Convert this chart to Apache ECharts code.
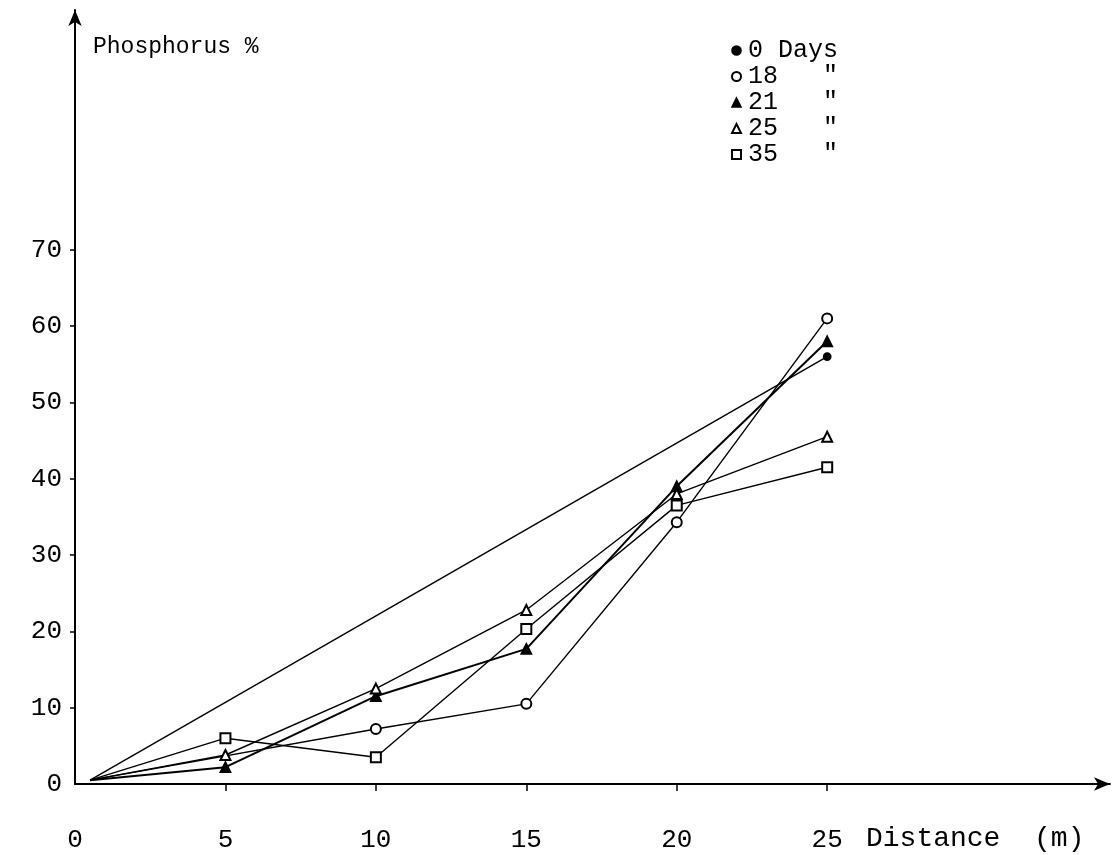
<!DOCTYPE html>
<html>
<head>
<meta charset="utf-8">
<script src="https://cdn.jsdelivr.net/npm/echarts@6/dist/echarts.min.js"></script>
<style>
html,body{margin:0;padding:0;background:#fff;}
#chart{width:1117px;height:855px;}
</style>
</head>
<body>
<div id="chart"></div>
<script>
// Data (x = distance in m, y = phosphorus %)
const xTicks = [0, 5, 10, 15, 20, 25];
const yTicks = [0, 10, 20, 30, 40, 50, 60, 70];
const seriesNames = ['0 Days', '18', '21', '25', '35'];
const legendLabels = ['0 Days', '18   "', '21   "', '25   "', '35   "'];
const days0  = [[0.5, 0.5], [25, 56]];
const days18 = [[0.5, 0.5], [10, 7.2], [15, 10.5], [20, 34.3], [25, 61]];
const days21 = [[0.5, 0.5], [5, 2.2], [10, 11.5], [15, 17.7], [20, 39], [25, 58]];
const days25 = [[0.5, 0.5], [5, 3.8], [10, 12.5], [15, 22.8], [20, 38], [25, 45.5]];
const days35 = [[0.5, 0.5], [5, 6.0], [10, 3.5], [15, 20.3], [20, 36.5], [25, 41.5]];
const seriesData = [days0, days18, days21, days25, days35];
const symbols = ['circle', 'emptyCircle', 'triangle', 'emptyTriangle', 'emptyRect'];

const FONT = '"Liberation Mono", "DejaVu Sans Mono", monospace';
const chart = echarts.init(document.getElementById('chart'));

const series = seriesNames.map((n, i) => ({
  name: n,
  type: 'line',
  // the common starting point near the origin is drawn without a marker
  data: seriesData[i].map((p, j) => j === 0 ? { value: p, symbol: 'none' } : p),
  symbol: symbols[i],
  symbolSize: i === 0 ? 7 : 10,
  showSymbol: true,
  color: '#000',
  lineStyle: { color: '#000', width: i === 2 ? 2 : 1.4 },
  itemStyle: { color: '#000', borderColor: '#000', borderWidth: 1.8 },
  animation: false,
  z: 3
}));

chart.setOption({
  backgroundColor: '#fff',
  animation: false,
  grid: { left: 75, right: 7, top: 10, bottom: 71, containLabel: false },
  legend: {
    orient: 'vertical',
    left: 726,
    top: 33,
    itemGap: 1,
    itemWidth: 9,
    itemHeight: 9,
    selectedMode: false,
    data: seriesNames.map((n, i) => ({ name: n, icon: symbols[i] })),
    formatter: (name) => legendLabels[seriesNames.indexOf(name)],
    textStyle: { fontFamily: FONT, fontSize: 25, color: '#000', padding: [0, 0, 0, 2] },
    itemStyle: { color: '#000', borderColor: '#000', borderWidth: 1.6 },
    lineStyle: { width: 0 }
  },
  xAxis: {
    type: 'value',
    min: 0,
    max: 34.4,
    interval: 5,
    splitLine: { show: false },
    axisLine: { show: true, lineStyle: { color: '#000', width: 2 }, symbol: ['none', 'arrow'], symbolSize: [10, 16] },
    axisTick: { show: true, customValues: [5, 10, 15, 20, 25], length: 7, lineStyle: { color: '#000', width: 1.5 } },
    axisLabel: { customValues: xTicks, margin: 43, fontFamily: FONT, fontSize: 26, color: '#000', showMaxLabel: true }
  },
  yAxis: {
    type: 'value',
    min: 0,
    max: 101.4,
    interval: 10,
    splitLine: { show: false },
    axisLine: { show: true, lineStyle: { color: '#000', width: 2 }, symbol: ['none', 'arrow'], symbolSize: [10, 16] },
    axisTick: { show: true, customValues: yTicks.slice(1), length: 5, lineStyle: { color: '#000', width: 1.5 } },
    axisLabel: { customValues: yTicks, margin: 13, fontFamily: FONT, fontSize: 26, color: '#000' }
  },
  graphic: [
    { type: 'text', left: 93, top: 35, style: { text: 'Phosphorus %', font: '23px ' + FONT, fill: '#000' } },
    { type: 'text', left: 866, top: 825, style: { text: 'Distance  (m)', font: '28px ' + FONT, fill: '#000' } }
  ],
  series: series
});
</script>
</body>
</html>
